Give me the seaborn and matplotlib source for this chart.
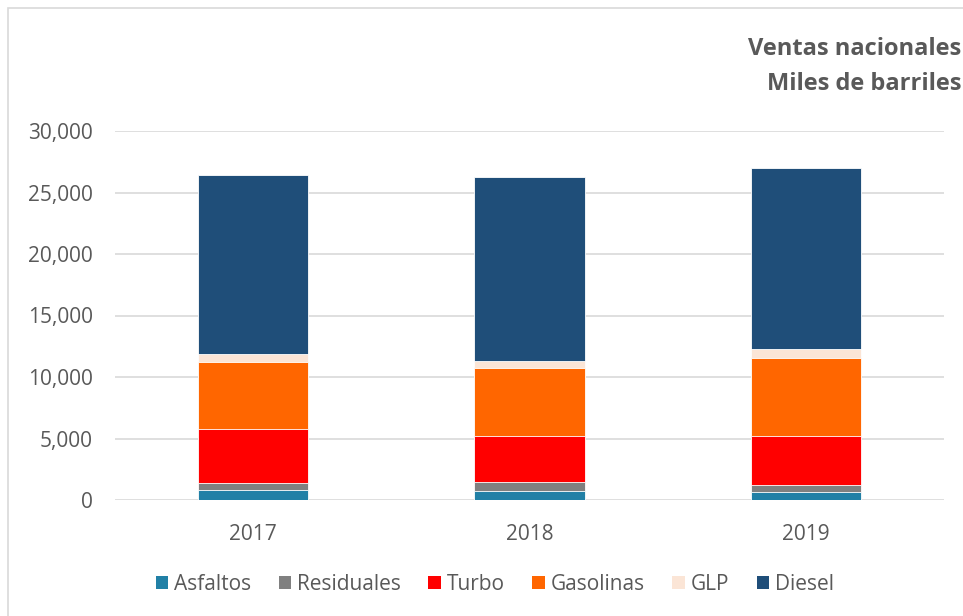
import numpy as np
import pandas as pd
import matplotlib
matplotlib.use("Agg")
import matplotlib.pyplot as plt
import seaborn as sns
from matplotlib.patches import Patch, Rectangle
from matplotlib.ticker import FuncFormatter

# DATA (miles de barriles)
years = ["2017", "2018", "2019"]
series = ["Asfaltos", "Residuales", "Turbo", "Gasolinas", "GLP", "Diesel"]
asfaltos = [810, 760, 620]
residuales = [550, 680, 600]
turbo = [4390, 3790, 4010]
gasolinas = [5490, 5480, 6290]
glp = [600, 620, 780]
diesel = [14580, 14930, 14690]

colors = ["#2180A6", "#808080", "#FF0000", "#FF6600", "#FBE5D6", "#1F4E79"]
TXT = "#595959"

sns.set_theme(style="white")
plt.rcParams["font.family"] = ["Open Sans", "DejaVu Sans"]

values = np.array([asfaltos, residuales, turbo, gasolinas, glp, diesel])
cum = values.cumsum(axis=0)

fig = plt.figure(figsize=(9.63, 6.16), dpi=100)
ax = fig.add_axes([115 / 963, 116 / 616, 829 / 963, 369 / 616])

# draw tallest cumulative first so lower segments sit on top
for i in range(len(series) - 1, -1, -1):
    df = pd.DataFrame({"year": years, "total": cum[i]})
    sns.barplot(data=df, x="year", y="total", color=colors[i], width=0.4,
                saturation=1, ax=ax, linewidth=0.6, edgecolor="white")

ax.set_ylim(0, 30000)
ax.set_xlim(-0.5, 2.5)
ax.set_yticks(np.arange(0, 30001, 5000))
ax.yaxis.set_major_formatter(FuncFormatter(lambda v, p: f"{int(v):,}"))
ax.yaxis.grid(True, color="#D9D9D9", linewidth=1.2)
ax.set_axisbelow(True)
for s in ax.spines.values():
    s.set_visible(False)
ax.set_xlabel("")
ax.set_ylabel("")
ax.tick_params(axis="y", labelsize=15, colors=TXT, pad=16, length=0)
ax.tick_params(axis="x", labelsize=15, colors=TXT, pad=17, length=0)

fig.text(0.998, 1 - 49 / 616, "Ventas nacionales", ha="right", va="center",
         fontsize=17, fontweight="bold", color=TXT)
fig.text(0.998, 1 - 84 / 616, "Miles de barriles", ha="right", va="center",
         fontsize=17, fontweight="bold", color=TXT)

handles = [Patch(facecolor=c, edgecolor="none") for c in colors]
fig.legend(handles, series, loc="center", bbox_to_anchor=(0.514, 1 - 584 / 616),
           ncol=6, frameon=False, fontsize=15, labelcolor=TXT,
           handlelength=0.6, handleheight=0.6, handletextpad=0.3, columnspacing=1.3)

# chart frame
fig.patches.append(Rectangle((8 / 963, -0.05), 1.1, 1 - 8 / 616 + 0.05,
                             transform=fig.transFigure, fill=False,
                             edgecolor="#D9D9D9", linewidth=1.2))

fig.savefig("out.png", dpi=100)
